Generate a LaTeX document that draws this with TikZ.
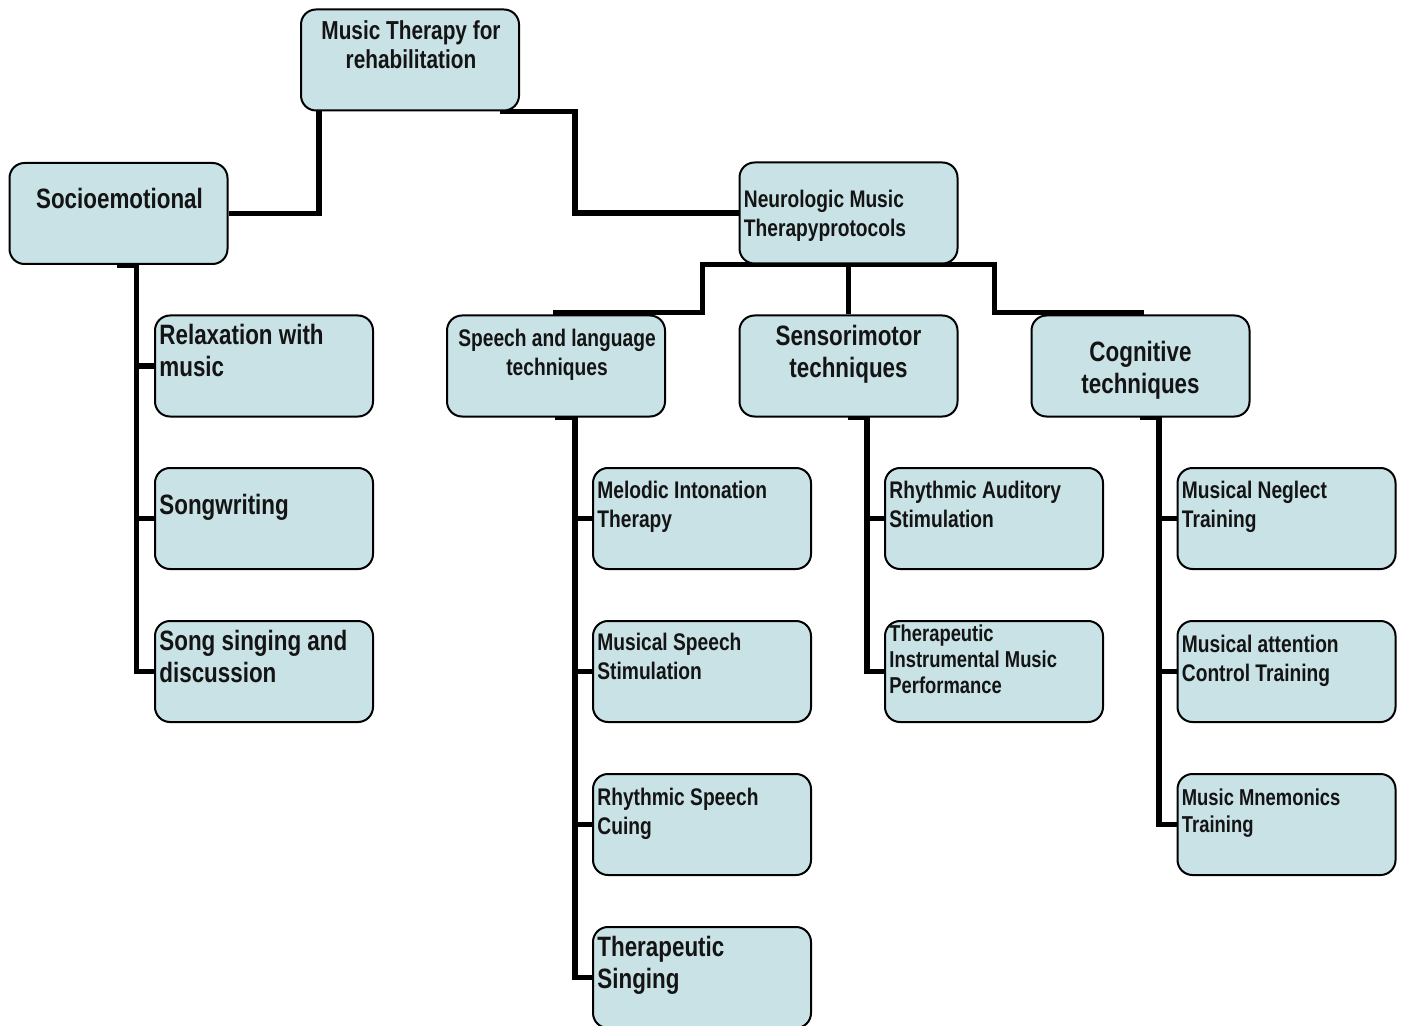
\documentclass[tikz,border=0pt]{standalone}
\usepackage{fontspec}
\setmainfont{Liberation Sans}[FakeStretch=0.8]
\usetikzlibrary{calc,backgrounds}
\definecolor{boxfill}{HTML}{C8E2E6}
\begin{document}
\begin{tikzpicture}[x=0.5pt,y=-0.5pt,
  box/.style={draw=black, line width=1pt, fill=boxfill, rounded corners=7.5pt,
    minimum width=109pt, minimum height=50.5pt, inner sep=0pt},
  conn/.style={draw=black, line width=2.75pt, line join=miter},
  big/.style={font=\fontsize{14}{16}\selectfont\bfseries},
  mid/.style={font=\fontsize{12}{14.5}\selectfont\bfseries},
  roott/.style={font=\fontsize{13}{14.5}\selectfont\bfseries},
  sml/.style={font=\fontsize{11.5}{13}\selectfont\bfseries},
  smlb/.style={font=\fontsize{11.5}{13.5}\selectfont\bfseries},
  lt/.style={anchor=north west, inner sep=0pt, align=left, text=black!92},
  ct/.style={anchor=north, inner sep=0pt, align=center, text=black!92}]
\useasboundingbox (0,0) rectangle (1401,1026);
\clip (0,0) rectangle (1401,1026);

% boxes
\node[box] (root) at (410,60) {};
\node[box] (socio) at (118.5,213.5) {};
\node[box] (nmt) at (848.5,213) {};
\node[box] (speech) at (556,366) {};
\node[box] (senso) at (848.5,366) {};
\node[box] (cog) at (1140.5,366) {};
\node[box] (relax) at (264,366) {};
\node[box] (songw) at (264,518.5) {};
\node[box] (songs) at (264,671.5) {};
\node[box] (mel) at (702,518.5) {};
\node[box] (mss) at (702,671.5) {};
\node[box] (rsc) at (702,824.5) {};
\node[box] (ts) at (702,977.5) {};
\node[box] (ras) at (994,518.5) {};
\node[box] (timp) at (994,671.5) {};
\node[box] (mnt) at (1286.5,518.5) {};
\node[box] (mact) at (1286.5,671.5) {};
\node[box] (mmt) at (1286.5,824.5) {};

% texts
\node[ct,roott] (root-t) at ($(root.north)+(1,12)$) {Music Therapy for\\rehabilitation};
\node[ct,big] (socio-t) at ($(socio.north)+(1,26)$) {Socioemotional};
\node[lt,mid] (nmt-t) at ($(nmt.north west)+(5,28)$) {Neurologic Music\\Therapyprotocols};
\node[ct,mid] (speech-t) at ($(speech.north)+(1,14)$) {Speech and language\\techniques};
\node[ct,big] (senso-t) at ($(senso.north)+(0,10)$) {Sensorimotor\\techniques};
\node[ct,big] (cog-t) at ($(cog.north)+(0,26)$) {Cognitive\\techniques};
\node[lt,big] (relax-t) at ($(relax.north west)+(5,9)$) {Relaxation with\\music};
\node[lt,big] (songw-t) at ($(songw.north west)+(5,27)$) {Songwriting};
\node[lt,big] (songs-t) at ($(songs.north west)+(5,10)$) {Song singing and\\discussion};
\node[lt,mid] (mel-t) at ($(mel.north west)+(5,14)$) {Melodic Intonation\\Therapy};
\node[lt,mid] (mss-t) at ($(mss.north west)+(5,12.5)$) {Musical Speech\\Stimulation};
\node[lt,mid] (rsc-t) at ($(rsc.north west)+(5,15)$) {Rhythmic Speech\\Cuing};
\node[lt,big] (ts-t) at ($(ts.north west)+(5,10)$) {Therapeutic\\Singing};
\node[lt,mid] (ras-t) at ($(ras.north west)+(5,14)$) {Rhythmic Auditory\\Stimulation};
\node[lt,sml] (timp-t) at ($(timp.north west)+(5,4)$) {Therapeutic\\Instrumental Music\\Performance};
\node[lt,mid] (mnt-t) at ($(mnt.north west)+(5,14)$) {Musical Neglect\\Training};
\node[lt,mid] (mact-t) at ($(mact.north west)+(5,15)$) {Musical attention\\Control Training};
\node[lt,smlb] (mmt-t) at ($(mmt.north west)+(5,15)$) {Music Mnemonics\\Training};

% connectors
\begin{scope}[on background layer]
\draw[conn] ($(root.south west)+(19,-5)$) |- (socio.east);
\draw[conn] ($(root.south east)+(-20,0)$) -- ++(75,0) |- (nmt.west);
\draw[conn] ($(speech.north)+(-3,-2)$) -| ($(nmt.south)+(-146,0)$) -- ($(nmt.south)+(146,0)$) |- ($(cog.north)+(3,-2)$);
\draw[conn] (nmt.south) -- (senso.north);
% socioemotional
\draw[conn] ($(socio.south)+(-2,0)$) -- ++(20,0) coordinate (sv) |- (songs.west);
\draw[conn] (sv |- relax.west) -- (relax.west);
\draw[conn] (sv |- songw.west) -- (songw.west);
% speech
\draw[conn] ($(speech.south)+(-1,0)$) -- ++(20,0) coordinate (pv) |- (ts.west);
\draw[conn] (pv |- mel.west) -- (mel.west);
\draw[conn] (pv |- mss.west) -- (mss.west);
\draw[conn] (pv |- rsc.west) -- (rsc.west);
% sensorimotor
\draw[conn] ($(senso.south)+(-1,0)$) -- ++(19.5,0) coordinate (mv) |- (timp.west);
\draw[conn] (mv |- ras.west) -- (ras.west);
% cognitive
\draw[conn] ($(cog.south)+(-1,0)$) -- ++(19.5,0) coordinate (cv) |- (mmt.west);
\draw[conn] (cv |- mnt.west) -- (mnt.west);
\draw[conn] (cv |- mact.west) -- (mact.west);
\end{scope}
\end{tikzpicture}
\end{document}
